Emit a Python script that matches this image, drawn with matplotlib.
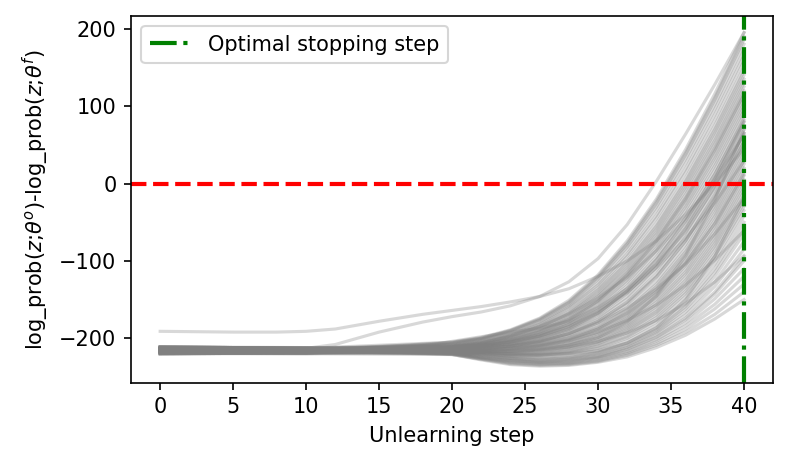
import matplotlib
matplotlib.use("Agg")
import matplotlib.pyplot as plt

steps = [0, 10, 20, 22, 24, 26, 28, 30, 32, 34, 36, 38, 40]

# curves ending highest (about 155..195)
top_curves = [
    [-212, -213, -205, -199, -189, -174, -151, -118, -74, -20, 44, 116, 195],
    [-216, -217, -205, -200, -190, -175, -153, -120, -77, -23, 40, 111, 190],
    [-219, -218, -206, -200, -190, -176, -154, -122, -79, -26, 37, 108, 186],
    [-214, -215, -206, -201, -191, -177, -156, -124, -82, -30, 32, 102, 180],
    [-218, -219, -207, -201, -193, -179, -158, -128, -86, -35, 26, 96, 172],
    [-211, -213, -208, -202, -194, -181, -160, -131, -91, -41, 19, 89, 165],
    [-217, -216, -208, -203, -195, -182, -162, -134, -94, -45, 14, 82, 158],
]

# curves ending between about 100 and 150
high_curves = [
    [-215, -214, -209, -204, -196, -184, -165, -137, -99, -51, 7, 75, 150],
    [-220, -219, -209, -205, -197, -185, -167, -139, -102, -55, 3, 70, 145],
    [-213, -215, -210, -205, -198, -186, -168, -142, -105, -58, -1, 66, 140],
    [-212, -213, -210, -206, -198, -188, -170, -144, -108, -62, -5, 61, 135],
    [-216, -217, -210, -206, -199, -189, -172, -146, -111, -65, -9, 56, 130],
    [-219, -218, -211, -207, -200, -190, -174, -149, -114, -69, -14, 52, 125],
    [-214, -215, -211, -207, -201, -191, -175, -151, -116, -72, -18, 47, 120],
    [-218, -219, -211, -208, -202, -192, -177, -153, -119, -76, -22, 42, 115],
    [-211, -213, -211, -208, -202, -194, -179, -155, -122, -79, -26, 37, 110],
    [-217, -216, -212, -209, -203, -195, -180, -158, -125, -83, -30, 33, 105],
]

# curves ending between about 55 and 100
mid_curves = [
    [-215, -214, -212, -209, -204, -196, -182, -160, -128, -86, -34, 28, 100],
    [-220, -219, -212, -209, -205, -197, -184, -163, -132, -90, -39, 23, 95],
    [-213, -215, -212, -210, -205, -198, -185, -165, -135, -95, -44, 18, 90],
    [-212, -213, -213, -210, -206, -199, -187, -168, -139, -99, -49, 12, 85],
    [-216, -217, -213, -211, -207, -200, -189, -170, -142, -104, -54, 7, 80],
    [-219, -218, -213, -211, -208, -202, -190, -173, -146, -108, -59, 2, 75],
    [-214, -215, -213, -211, -208, -203, -192, -175, -149, -112, -64, -3, 70],
    [-218, -219, -213, -212, -209, -204, -194, -178, -153, -117, -69, -8, 65],
    [-211, -213, -214, -212, -210, -205, -196, -180, -156, -121, -74, -14, 60],
    [-217, -216, -214, -213, -210, -206, -197, -183, -160, -126, -79, -19, 55],
]

# curves ending between about 5 and 50
low_curves = [
    [-215, -214, -214, -213, -211, -207, -199, -185, -163, -130, -84, -24, 50],
    [-220, -219, -214, -214, -212, -208, -200, -187, -165, -133, -88, -29, 45],
    [-213, -215, -215, -214, -213, -209, -202, -188, -167, -136, -91, -33, 40],
    [-212, -213, -215, -215, -213, -210, -203, -190, -170, -139, -95, -38, 35],
    [-216, -217, -215, -215, -214, -211, -204, -192, -172, -142, -99, -42, 30],
    [-219, -218, -216, -216, -215, -212, -206, -194, -174, -145, -103, -47, 25],
    [-214, -215, -216, -216, -216, -213, -207, -195, -176, -147, -106, -51, 20],
    [-218, -219, -216, -217, -217, -214, -208, -197, -178, -150, -110, -56, 15],
    [-211, -213, -216, -217, -217, -215, -209, -199, -181, -153, -114, -60, 10],
    [-217, -216, -217, -218, -218, -216, -211, -200, -183, -156, -117, -65, 5],
]

# curves ending between about -42 and 0
negative_curves = [
    [-215, -214, -217, -218, -219, -217, -212, -202, -185, -159, -121, -69, 0],
    [-220, -219, -217, -218, -220, -218, -213, -204, -187, -162, -125, -73, -5],
    [-213, -215, -217, -219, -220, -219, -214, -205, -189, -165, -128, -77, -10],
    [-212, -213, -218, -219, -221, -220, -216, -207, -191, -167, -132, -81, -15],
    [-216, -217, -218, -220, -221, -221, -217, -208, -193, -170, -135, -85, -20],
    [-219, -218, -218, -220, -222, -222, -218, -210, -196, -173, -139, -90, -25],
    [-214, -215, -218, -220, -223, -222, -219, -212, -198, -176, -142, -94, -30],
    [-218, -219, -218, -221, -223, -223, -220, -213, -200, -179, -146, -98, -35],
    [-211, -213, -219, -221, -224, -225, -222, -216, -203, -183, -151, -104, -42],
]

# curves ending lowest (about -150..-50), these dip below the band first
bottom_curves = [
    [-217, -216, -219, -222, -225, -226, -224, -218, -206, -187, -156, -110, -50],
    [-215, -214, -219, -222, -226, -227, -225, -219, -207, -189, -159, -115, -58],
    [-220, -219, -219, -223, -226, -228, -226, -220, -209, -191, -162, -120, -65],
    [-213, -215, -220, -224, -227, -229, -227, -222, -211, -193, -166, -127, -75],
    [-212, -213, -220, -224, -228, -230, -228, -223, -212, -195, -170, -133, -85],
    [-216, -217, -220, -225, -229, -231, -229, -224, -214, -198, -174, -140, -95],
    [-219, -218, -220, -225, -229, -231, -230, -225, -215, -199, -176, -143, -100],
    [-214, -215, -220, -226, -230, -232, -231, -226, -217, -202, -180, -149, -110],
    [-218, -219, -220, -226, -231, -233, -232, -227, -219, -204, -184, -156, -120],
    [-211, -213, -221, -227, -232, -234, -233, -229, -220, -207, -188, -162, -130],
    [-217, -216, -221, -227, -233, -235, -234, -230, -222, -209, -192, -169, -140],
    [-220, -220, -221, -228, -234, -236, -235, -231, -224, -212, -196, -175, -150],
]

# curves with an earlier or later bend that cross through the bundle
crossing_curves = [
    [-214, -213, -212, -206, -197, -185, -169, -148, -121, -87, -45, 5, 63],
    [-218, -217, -214, -210, -204, -195, -182, -164, -140, -109, -71, -25, 29],
    [-212, -214, -216, -214, -210, -204, -194, -180, -161, -136, -104, -65, -19],
    [-216, -215, -217, -216, -214, -210, -203, -192, -177, -157, -131, -99, -61],
    [-213, -212, -218, -218, -217, -215, -211, -204, -193, -177, -155, -127, -93],
    [-219, -220, -216, -218, -220, -221, -220, -216, -206, -186, -150, -94, -18],
    [-212, -212, -215, -216, -216, -214, -209, -199, -179, -145, -93, -21, 69],
    [-217, -218, -213, -211, -207, -200, -188, -168, -138, -98, -48, 12, 82],
    [-215, -216, -212, -208, -202, -192, -176, -152, -118, -74, -20, 44, 116],
    [-220, -218, -214, -213, -210, -204, -194, -178, -154, -120, -74, -16, 54],
    [-211, -212, -213, -210, -205, -197, -185, -167, -141, -105, -57, 5, 79],
    [-216, -217, -215, -215, -213, -209, -201, -188, -168, -140, -102, -52, 12],
]

# a few curves that leave the bundle early, read on a finer step grid
outlier_steps = [0, 5, 8, 10, 12, 15, 18, 20, 22, 24, 26, 28, 30, 32, 34, 36, 38, 40]
outlier_curves = [
    [-191, -192, -192, -191, -188, -178, -169, -164, -159, -153, -146, -136, -120, -100, -74, -40, 0, 45],
    [-214, -214, -214, -213, -208, -192, -179, -172, -166, -158, -146, -127, -97, -53, 3, 64, 128, 195],
    [-215, -215, -215, -215, -215, -214, -210, -204, -198, -192, -187, -178, -160, -136, -104, -62, -5, 65],
]

optimal_step = 40

fig, ax = plt.subplots(figsize=(5.26, 3.12), dpi=150)
fig.subplots_adjust(left=0.166, right=0.98, bottom=0.182, top=0.966)

bundle = (top_curves + high_curves + mid_curves + low_curves
          + negative_curves + bottom_curves + crossing_curves)
for curve in bundle:
    ax.plot(steps, curve, color="gray", alpha=0.3, linewidth=1.5)
for curve in outlier_curves:
    ax.plot(outlier_steps, curve, color="gray", alpha=0.3, linewidth=1.5)

ax.axhline(0, color="red", linestyle="--", linewidth=2)
ax.axvline(optimal_step, color="green", linestyle="-.", linewidth=2,
           label="Optimal stopping step")

ax.set_xlabel("Unlearning step")
ax.set_ylabel(r"log_prob($z$;$\theta^o$)-log_prob($z$;$\theta^f$)")
ax.set_xticks([0, 5, 10, 15, 20, 25, 30, 35, 40])
ax.legend(loc="upper left")

fig.savefig("out.png", dpi=150)
